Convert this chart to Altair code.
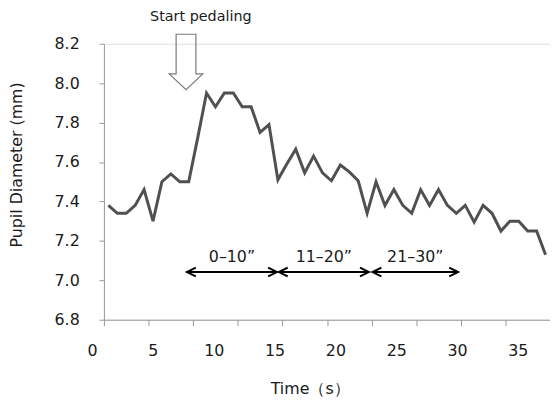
import altair as alt
import pandas as pd

# Pupil diameter samples (mm), 50 samples along the category axis
diameter = [7.38, 7.34, 7.34, 7.38, 7.46, 7.30, 7.50, 7.54, 7.50, 7.50,
            7.72, 7.95, 7.88, 7.95, 7.95, 7.88, 7.88, 7.75, 7.79, 7.51,
            7.59, 7.665, 7.545, 7.63, 7.545, 7.505, 7.585, 7.55, 7.505, 7.34,
            7.50, 7.38, 7.46, 7.38, 7.34, 7.46, 7.38, 7.46, 7.38, 7.34,
            7.38, 7.295, 7.38, 7.34, 7.25, 7.30, 7.30, 7.25, 7.25, 7.13]
sample = list(range(1, len(diameter) + 1))

# Axis labels / ticks
time_labels = [0, 5, 10, 15, 20, 25, 30, 35]
time_domain = [0.975, 37.64]
sample_ticks = [0.5 + 5 * k for k in range(11)]
y_ticks = [6.8, 7.0, 7.2, 7.4, 7.6, 7.8, 8.0, 8.2]

# Annotations
seg_start = [9.8, 20.1, 30.6]
seg_end = [19.9, 30.2, 40.2]
seg_label = ["0–10”", "11–20”", "21–30”"]
seg_y = [7.042, 7.042, 7.042]
seg_text_y = [7.116, 7.116, 7.116]
pedal_x = [9.7]
pedal_y = [8.108]
pedal_text_x = [11.36]
pedal_text_y = [8.334]
pedal_text = ["Start pedaling"]

FONT = "DejaVu Sans"
AXIS_GRAY = "#9a9a9a"
TXT = "#1a1a1a"

df = pd.DataFrame({"sample": sample, "diameter": diameter})
seg = pd.DataFrame({"x1": seg_start, "x2": seg_end, "label": seg_label,
                    "y": seg_y, "ty": seg_text_y})
pedal = pd.DataFrame({"x": pedal_x, "y": pedal_y})
pedal_t = pd.DataFrame({"x": pedal_text_x, "y": pedal_text_y, "t": pedal_text})
tl = pd.DataFrame({"t": [v + 1 for v in time_labels]})

xs = alt.Scale(domain=[0.5, 50.5], nice=False, zero=False)
ys = alt.Scale(domain=[6.8, 8.2], nice=False, zero=False)

x_axis = alt.Axis(values=sample_ticks, labels=False, grid=False,
                  tickSize=6, tickColor=AXIS_GRAY, domainColor=AXIS_GRAY,
                  title="Time（s）", titleFont=FONT, titleFontSize=16,
                  titleFontWeight="normal", titleColor=TXT,
                  titleX=208, titleY=70, titleAlign="center",
                  titleBaseline="middle")
y_axis = alt.Axis(values=y_ticks, format=".1f", grid=False,
                  tickSize=5, tickColor=AXIS_GRAY, domainColor=AXIS_GRAY,
                  labelFont=FONT, labelFontSize=16, labelColor=TXT,
                  labelPadding=20, labelOverlap=False,
                  title="Pupil Diameter (mm)", titleFont=FONT,
                  titleFontSize=16, titleFontWeight="normal",
                  titleColor=TXT, titleX=-88, titleY=122,
                  titleAngle=-90, titleAlign="center",
                  titleBaseline="middle")


def X(field):
    return alt.X(field, scale=xs, axis=x_axis)


def Y(field):
    return alt.Y(field, scale=ys, axis=y_axis)


line = alt.Chart(df).mark_line(color="#505050", strokeWidth=3).encode(
    x=X("sample:Q"), y=Y("diameter:Q"))

hollow = ("M-0.357,-1 L0.357,-1 L0.357,0.43 L0.607,0.43 L0,1 "
          "L-0.607,0.43 L-0.357,0.43 Z")
arrow_down = alt.Chart(pedal).mark_point(
    shape=hollow, size=3136, filled=False, stroke="#7a7a7a", strokeWidth=1.2,
    opacity=1).encode(x=X("x:Q"), y=Y("y:Q"))

pedal_label = alt.Chart(pedal_t).mark_text(
    font=FONT, fontSize=14.5, color=TXT, align="center", baseline="middle"
).encode(x=X("x:Q"), y=Y("y:Q"), text="t:N")

rules = alt.Chart(seg).mark_rule(color="black", strokeWidth=2).encode(
    x=X("x1:Q"), x2="x2:Q", y=Y("y:Q"))
head_l = alt.Chart(seg).mark_point(
    shape="M2,-1 L0,0 L2,1", size=81, filled=False, color="black",
    strokeWidth=2, opacity=1).encode(x=X("x1:Q"), y=Y("y:Q"))
head_r = alt.Chart(seg).mark_point(
    shape="M-2,-1 L0,0 L-2,1", size=81, filled=False, color="black",
    strokeWidth=2, opacity=1).encode(x=X("x2:Q"), y=Y("y:Q"))
seg_text = alt.Chart(seg).transform_calculate(
    mid="(datum.x1 + datum.x2) / 2").mark_text(
    font=FONT, fontSize=16, color=TXT, align="center", baseline="middle"
).encode(x=X("mid:Q"), y=Y("ty:Q"), text="label:N")

main = alt.layer(line, arrow_down, pedal_label, rules, head_l, head_r, seg_text)

px_per_sec = 451 / (time_domain[1] - time_domain[0])
labels_layer = alt.Chart(tl).mark_point(opacity=0).encode(
    x=alt.X("t:Q", scale=alt.Scale(domain=time_domain, nice=False, zero=False),
            axis=alt.Axis(orient="bottom", values=[v + 1 for v in time_labels],
                          labelExpr="format(datum.value - 1, 'd')",
                          labelOffset=-px_per_sec, ticks=False,
                          domain=False, grid=False, title=None,
                          labelFont=FONT, labelFontSize=16, labelColor=TXT,
                          labelPadding=31, labelBaseline="middle",
                          labelFlush=False, labelOverlap=False, labelBound=False)))

chart = alt.layer(main, labels_layer).resolve_scale(x="independent").properties(
    width=451, height=279,
    autosize=alt.AutoSizeParams(type="none"),
    padding={"left": 97, "top": 34, "right": 0, "bottom": 80},
).configure_view(stroke=None).configure(background="white")

chart.save("out.html", embed_options={"renderer": "svg", "actions": False})
